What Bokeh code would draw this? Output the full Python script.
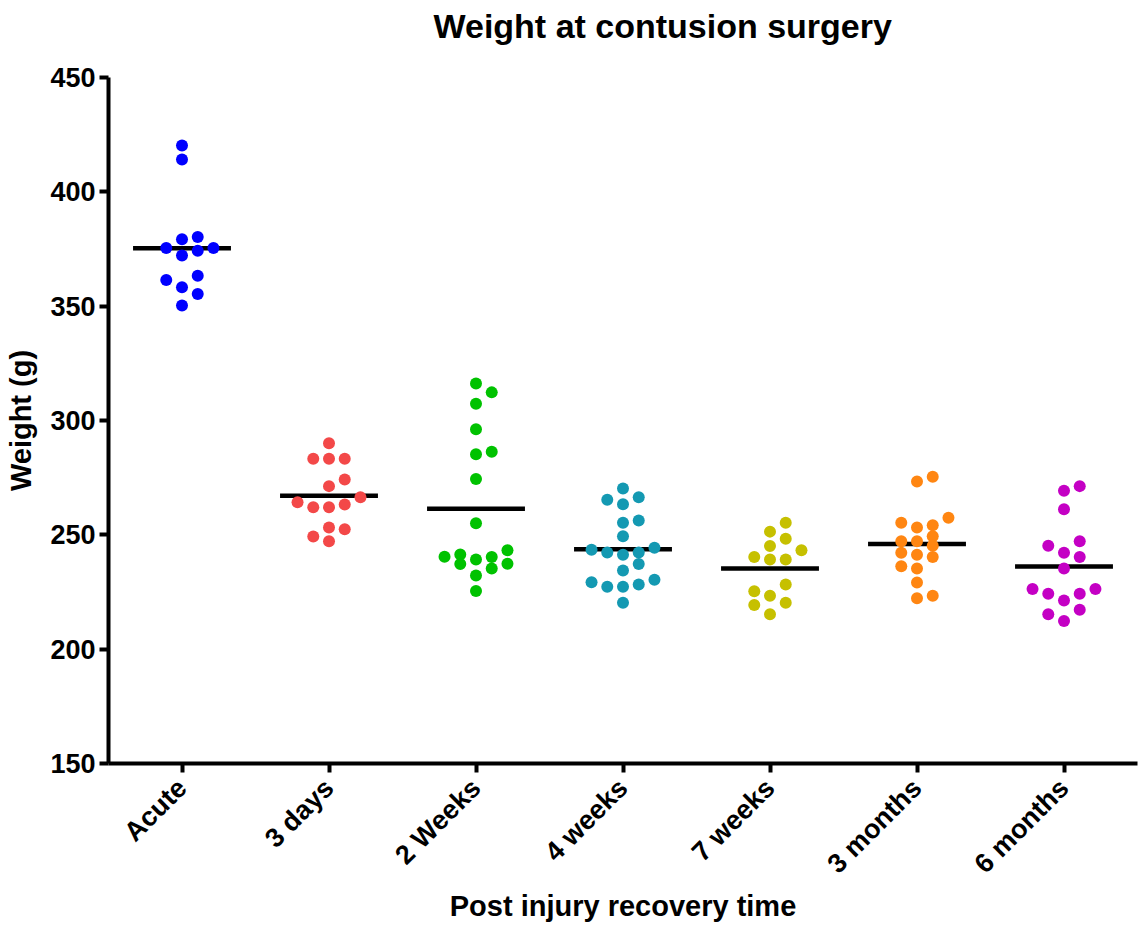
import math

from bokeh.embed import file_html
from bokeh.models import ColumnDataSource, FixedTicker, Range1d, Title
from bokeh.plotting import figure
from bokeh.resources import INLINE

# Recovery-time groups shown along the x axis
categories = ["Acute", "3 days", "2 Weeks", "4 weeks", "7 weeks", "3 months", "6 months"]

# Body weight (g) of each animal at the time of contusion surgery
acute = [420.3, 414.1, 380.2, 379.3, 375.4, 374.2, 375.4, 372.2, 363.3, 361.4, 358.3, 355.3, 350.3]
days_3 = [290.1, 283.3, 283.3, 283.3, 274.2, 271.3, 266.4, 264.3, 262.1, 262.1, 263.3, 252.4,
          253.2, 249.3, 247.2]
weeks_2 = [316.2, 312.3, 307.3, 296.2, 286.3, 285.2, 274.4, 255.1, 243.3, 240.3, 239.2, 240.4,
           241.4, 237.4, 235.3, 237.2, 232.2, 225.4]
weeks_4 = [270.3, 266.4, 265.3, 263.4, 256.3, 255.3, 249.4, 243.5, 244.4, 242.3, 241.3, 242.3,
           237.2, 234.4, 229.3, 230.4, 227.3, 227.3, 228.3, 220.3]
weeks_7 = [255.3, 251.4, 248.3, 245.1, 243.3, 240.3, 239.2, 239.2, 228.3, 225.3, 223.4, 220.3,
           219.3, 215.3]
months_3 = [275.4, 273.3, 257.5, 255.3, 254.2, 253.2, 249.4, 247.2, 247.2, 245.2, 241.3, 242.2,
            240.3, 235.3, 236.3, 229.2, 222.3, 223.4]
months_6 = [271.3, 269.3, 261.2, 247.2, 245.2, 242.2, 240.3, 235.3, 226.3, 226.3, 224.2, 224.2,
            221.3, 217.2, 215.3, 212.3]

groups = [acute, days_3, weeks_2, weeks_4, weeks_7, months_3, months_6]
colors = ["#0000FF", "#F34848", "#00C200", "#1499B2", "#C6C000", "#FF8612", "#C400C4"]

y_ticks = [150, 200, 250, 300, 350, 400, 450]
title_text = "Weight at contusion surgery"

FONT = "Liberation Sans"
ROW_SPAN = 5.5   # g: values closer than this are laid out side by side in one row
SLOT = 0.107     # horizontal step between neighbouring dots, in category units
MIN_GAP = 4.0    # g: preferred vertical clearance between dots sharing a slot
HALF_BAR = 0.333  # half width of the mean bar, in category units


def swarm_slots(vals):
    """Scatter-dot layout: nearby values form rows that spread out from the centre."""
    order = sorted(range(len(vals)), key=lambda i: vals[i])
    rows = []
    for i in order:
        if rows and vals[i] - vals[rows[-1][0]] < ROW_SPAN:
            rows[-1].append(i)
        else:
            rows.append([i])

    slots = [0] * len(vals)
    placed = {}
    for row in rows:
        n = len(row)
        first = -1 if n % 2 else 1
        seq, k = [0], 1
        while len(seq) < n:
            seq.append(first * k)
            if len(seq) < n:
                seq.append(-first * k)
            k += 1
        free = list(seq)
        for i in row:
            v = vals[i]

            def gap(s, v=v):
                return min((abs(v - w) for w in placed.get(s, [])), default=1e9)

            choice = next((s for s in free if gap(s) >= MIN_GAP), None)
            if choice is None:
                choice = max(free, key=gap)
            free.remove(choice)
            slots[i] = choice
            placed.setdefault(choice, []).append(v)
    return slots


xs, ys, cs = [], [], []
bar_x0, bar_x1, bar_y = [], [], []
for idx, (vals, col) in enumerate(zip(groups, colors)):
    for v, s in zip(vals, swarm_slots(vals)):
        xs.append(idx + s * SLOT)
        ys.append(v)
        cs.append(col)
    mean = sum(vals) / len(vals)
    bar_x0.append(idx - HALF_BAR)
    bar_x1.append(idx + HALF_BAR)
    bar_y.append(mean)

dots = ColumnDataSource(dict(x=xs, y=ys, color=cs))
bars = ColumnDataSource(dict(x0=bar_x0, x1=bar_x1, y=bar_y))

p = figure(
    width=1143, height=925, title=None,
    x_range=Range1d(-0.5, len(categories) - 0.5),
    y_range=Range1d(150, 450),
    output_backend="svg", toolbar_location=None,
    min_border_left=108, min_border_right=6,
    min_border_top=77, min_border_bottom=162,
)

# Blank band between the heading and the plotting frame, then the heading itself
p.add_layout(Title(text=" ", text_font_size="28px", standoff=0), "above")
p.add_layout(Title(text=title_text, align="left", offset=325, text_font=FONT,
                   text_font_size="34px", text_font_style="bold", text_color="black",
                   standoff=0), "above")

p.background_fill_color = "white"
p.border_fill_color = "white"
p.outline_line_color = None
p.xgrid.visible = False
p.ygrid.visible = False

p.segment(x0="x0", x1="x1", y0="y", y1="y", source=bars, line_color="black", line_width=4.5)
p.scatter(x="x", y="y", source=dots, size=12, fill_color="color", line_color=None)

for ax in (p.xaxis[0], p.yaxis[0]):
    ax.axis_line_width = 4
    ax.axis_line_color = "black"
    ax.major_tick_line_width = 4
    ax.major_tick_line_color = "black"
    ax.major_tick_out = 9
    ax.major_tick_in = 0
    ax.minor_tick_line_color = None
    ax.major_label_text_font = FONT
    ax.major_label_text_font_style = "bold"
    ax.major_label_text_font_size = "27px"
    ax.major_label_text_color = "black"
    ax.axis_label_text_font = FONT
    ax.axis_label_text_font_style = "bold"
    ax.axis_label_text_font_size = "29px"
    ax.axis_label_text_color = "black"

p.xaxis.ticker = FixedTicker(ticks=list(range(len(categories))))
p.xaxis.major_label_overrides = {i: name for i, name in enumerate(categories)}
p.xaxis.major_label_orientation = math.pi / 4
p.xaxis.major_label_standoff = 11
p.xaxis.axis_label = "Post injury recovery time"
p.xaxis.axis_label_standoff = -3

p.yaxis.ticker = FixedTicker(ticks=y_ticks)
p.yaxis.major_label_standoff = 4
p.yaxis.axis_label = "Weight (g)"
p.yaxis.axis_label_standoff = 10

open("out.html", "w").write(file_html(p, INLINE))
